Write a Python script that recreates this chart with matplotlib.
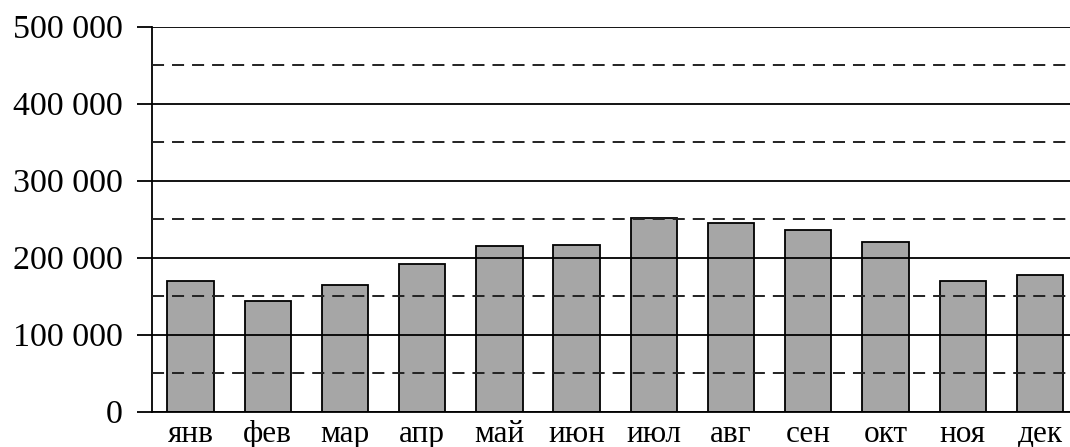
import matplotlib
matplotlib.use('Agg')
import matplotlib.pyplot as plt
from matplotlib.ticker import FuncFormatter, MultipleLocator

# monthly values
months = ['янв', 'фев', 'мар', 'апр', 'май', 'июн',
          'июл', 'авг', 'сен', 'окт', 'ноя', 'дек']
values = [170000, 144000, 165000, 192000, 215000, 216000,
          251000, 245000, 236000, 221000, 170000, 177000]

plt.rcParams['font.family'] = ['Liberation Serif', 'DejaVu Serif']

fig = plt.figure(figsize=(10.7, 4.47), dpi=100)
ax = fig.add_axes([152/1070, 35.3/447, 1 - 152/1070, (411.7 - 26.7)/447])

x = list(range(len(months)))
ax.bar(x, values, width=0.6, color='#a6a6a6', edgecolor='black',
       linewidth=1.3, zorder=2)

ax.set_xlim(-0.5, 11.39)
ax.set_ylim(0, 500000)

ax.yaxis.set_major_locator(MultipleLocator(100000))
ax.yaxis.set_minor_locator(MultipleLocator(50000))
ax.yaxis.set_major_formatter(FuncFormatter(lambda v, p: f'{int(v):,}'.replace(',', ' ')))

# solid lines at every 100 000, dashed in between
ax.grid(True, axis='y', which='major', color='black', linewidth=1.3, zorder=3)
ax.grid(True, axis='y', which='minor', color='#222222', linewidth=1.4,
        linestyle=(0, (6.2, 4.1)), zorder=3)
ax.set_axisbelow(False)

ax.tick_params(axis='y', which='major', length=10.8, width=1.3, direction='out',
               labelsize=24.5, pad=10, color='black')
ax.tick_params(axis='y', which='minor', length=0)
ax.set_xticks(x)
ax.set_xticklabels(months)
ax.tick_params(axis='x', length=0, labelsize=22.5, pad=6)

for s in ['top', 'right', 'bottom']:
    ax.spines[s].set_visible(False)
ax.spines['left'].set_linewidth(1.3)
ax.axhline(0, color='black', linewidth=1.3, zorder=3, clip_on=False)

fig.savefig('out.png', dpi=100)
